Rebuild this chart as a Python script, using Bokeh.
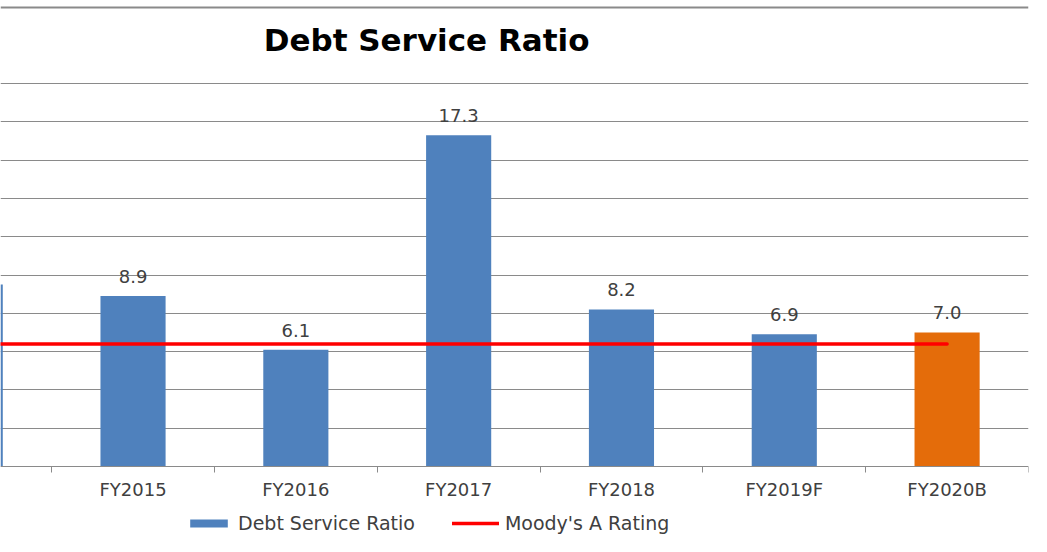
from bokeh.plotting import figure
from bokeh.models import (Range1d, FixedTicker, Legend, LegendItem, LabelSet,
                          ColumnDataSource, Label, Span)
from bokeh.core.properties import value
from bokeh.embed import file_html
from bokeh.resources import INLINE

# ---- data ----
categories = ["FY2014", "FY2015", "FY2016", "FY2017", "FY2018", "FY2019F", "FY2020B"]
debt_service_ratio = [9.5, 8.9, 6.1, 17.3, 8.2, 6.9, 7.0]
value_labels = ["9.5", "8.9", "6.1", "17.3", "8.2", "6.9", "7.0"]
moodys_a_rating = [6.4, 6.4, 6.4, 6.4, 6.4, 6.4, 6.4]
is_budget = [False, False, False, False, False, False, True]
grid_values = [2, 4, 6, 8, 10, 12, 14, 16, 18, 20]

FONT = "DejaVu Sans"
TXT = "#404040"
GRID = "#8a8a8a"
X_START = 0.186   # the view starts part-way through the first category

idx = list(range(len(categories)))
blue_x = [i for i in idx if not is_budget[i]]
blue_top = [debt_service_ratio[i] for i in idx if not is_budget[i]]
orange_x = [i for i in idx if is_budget[i]]
orange_top = [debt_service_ratio[i] for i in idx if is_budget[i]]

p = figure(width=1031, height=536,
           x_range=Range1d(X_START, 6.5), y_range=Range1d(-3.655, 24.334),
           output_backend="svg", toolbar_location=None,
           min_border_left=0, min_border_right=3,
           min_border_top=0, min_border_bottom=0)
p.outline_line_color = None
p.background_fill_color = "white"
p.border_fill_color = "white"

p.yaxis.visible = False
p.xgrid.visible = False
p.ygrid.ticker = FixedTicker(ticks=grid_values)
p.ygrid.grid_line_color = GRID
p.ygrid.grid_line_width = 1

ax = p.xaxis[0]
ax.fixed_location = 0
ax.ticker = FixedTicker(ticks=idx, minor_ticks=[i - 0.5 for i in idx] + [len(idx) - 0.5])
ax.major_label_overrides = {i: c for i, c in zip(idx, categories)}
ax.major_tick_line_color = None
ax.major_tick_out = 0
ax.major_tick_in = 0
ax.minor_tick_line_color = GRID
ax.minor_tick_out = 6
ax.minor_tick_in = 0
ax.axis_line_color = GRID
ax.major_label_standoff = 6
ax.major_label_text_font_size = "18px"
ax.major_label_text_font = FONT
ax.major_label_text_color = TXT

blue = p.vbar(x=blue_x, top=blue_top, width=0.4, fill_color="#4F81BD", line_color=None)
p.vbar(x=orange_x, top=orange_top, width=0.4, fill_color="#E46C0A", line_color=None)
red = p.line(x=idx, y=moodys_a_rating, line_color="#FF0000", line_width=3.5, line_cap="round")

# value labels only for categories whose centre is inside the visible window
vis = [i for i in idx if i >= X_START]
src = ColumnDataSource(dict(x=vis, y=[debt_service_ratio[i] for i in vis],
                            t=[value_labels[i] for i in vis]))
p.add_layout(LabelSet(x="x", y="y", text="t", source=src, y_offset=13,
                      text_align="center", text_baseline="alphabetic",
                      text_font_size="18px", text_font=value(FONT), text_color=TXT))

p.add_layout(Label(x=2.803, y=22.25, text="Debt Service Ratio", text_align="center",
                   text_baseline="middle", text_font_size="31px",
                   text_font_style="bold", text_font=FONT, text_color="#000000"))

p.add_layout(Span(location=23.97, dimension="width", line_color=GRID, line_width=2))

legend = Legend(items=[LegendItem(label="Debt Service Ratio", renderers=[blue]),
                       LegendItem(label="Moody's A Rating", renderers=[red])],
                orientation="horizontal", location=(185, 2),
                glyph_width=47, glyph_height=10, label_text_font_size="19px",
                label_text_font=FONT, label_text_color=TXT,
                border_line_color=None, padding=0, margin=0, spacing=37,
                label_standoff=6, background_fill_alpha=0)
p.add_layout(legend)

open("out.html", "w").write(file_html(p, INLINE))
